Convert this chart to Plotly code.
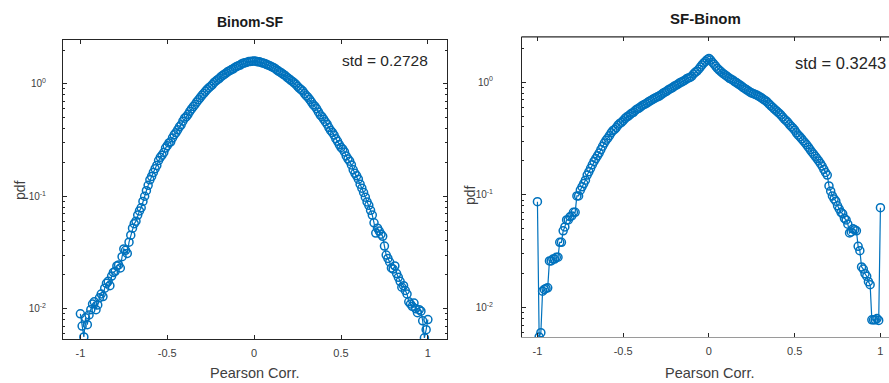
import plotly.graph_objects as go

# ---------------- data ----------------
x_bins = [
    -1.00, -0.99, -0.98, -0.97, -0.96, -0.95, -0.94, -0.93, -0.92, -0.91,
    -0.90, -0.89, -0.88, -0.87, -0.86, -0.85, -0.84, -0.83, -0.82, -0.81,
    -0.80, -0.79, -0.78, -0.77, -0.76, -0.75, -0.74, -0.73, -0.72, -0.71,
    -0.70, -0.69, -0.68, -0.67, -0.66, -0.65, -0.64, -0.63, -0.62, -0.61,
    -0.60, -0.59, -0.58, -0.57, -0.56, -0.55, -0.54, -0.53, -0.52, -0.51,
    -0.50, -0.49, -0.48, -0.47, -0.46, -0.45, -0.44, -0.43, -0.42, -0.41,
    -0.40, -0.39, -0.38, -0.37, -0.36, -0.35, -0.34, -0.33, -0.32, -0.31,
    -0.30, -0.29, -0.28, -0.27, -0.26, -0.25, -0.24, -0.23, -0.22, -0.21,
    -0.20, -0.19, -0.18, -0.17, -0.16, -0.15, -0.14, -0.13, -0.12, -0.11,
    -0.10, -0.09, -0.08, -0.07, -0.06, -0.05, -0.04, -0.03, -0.02, -0.01,
    0.00, 0.01, 0.02, 0.03, 0.04, 0.05, 0.06, 0.07, 0.08, 0.09,
    0.10, 0.11, 0.12, 0.13, 0.14, 0.15, 0.16, 0.17, 0.18, 0.19,
    0.20, 0.21, 0.22, 0.23, 0.24, 0.25, 0.26, 0.27, 0.28, 0.29,
    0.30, 0.31, 0.32, 0.33, 0.34, 0.35, 0.36, 0.37, 0.38, 0.39,
    0.40, 0.41, 0.42, 0.43, 0.44, 0.45, 0.46, 0.47, 0.48, 0.49,
    0.50, 0.51, 0.52, 0.53, 0.54, 0.55, 0.56, 0.57, 0.58, 0.59,
    0.60, 0.61, 0.62, 0.63, 0.64, 0.65, 0.66, 0.67, 0.68, 0.69,
    0.70, 0.71, 0.72, 0.73, 0.74, 0.75, 0.76, 0.77, 0.78, 0.79,
    0.80, 0.81, 0.82, 0.83, 0.84, 0.85, 0.86, 0.87, 0.88, 0.89,
    0.90, 0.91, 0.92, 0.93, 0.94, 0.95, 0.96, 0.97, 0.98, 0.99,
    1.00,
]

pdf_binom_sf = [
    0.0090, 0.0070, 0.0056, 0.0083, 0.0072, 0.0088, 0.0098, 0.0110, 0.0115, 0.0098,
    0.0108, 0.0125, 0.0135, 0.0128, 0.0152, 0.0168, 0.0175, 0.0160, 0.0195, 0.0210,
    0.0215, 0.0240, 0.0245, 0.0230, 0.029, 0.034, 0.033, 0.031, 0.039, 0.045,
    0.052, 0.057, 0.060, 0.068, 0.074, 0.079, 0.090, 0.100, 0.112, 0.125,
    0.140, 0.150, 0.163, 0.176, 0.188, 0.208, 0.222, 0.232, 0.245, 0.268,
    0.282, 0.298, 0.305, 0.330, 0.352, 0.368, 0.390, 0.415, 0.432, 0.465,
    0.495, 0.510, 0.535, 0.570, 0.598, 0.628, 0.655, 0.690, 0.722, 0.755,
    0.790, 0.822, 0.858, 0.892, 0.925, 0.952, 0.985, 1.03, 1.06, 1.09,
    1.12, 1.16, 1.19, 1.22, 1.25, 1.29, 1.31, 1.34, 1.36, 1.40,
    1.43, 1.45, 1.47, 1.51, 1.53, 1.54, 1.56, 1.58, 1.58, 1.59,
    1.60, 1.59, 1.57, 1.57, 1.55, 1.53, 1.52, 1.49, 1.47, 1.45,
    1.42, 1.40, 1.37, 1.33, 1.30, 1.27, 1.24, 1.21, 1.18, 1.14,
    1.11, 1.08, 1.05, 1.02, 0.99, 0.950, 0.915, 0.890, 0.862, 0.820,
    0.785, 0.758, 0.725, 0.688, 0.652, 0.630, 0.600, 0.562, 0.530, 0.510,
    0.485, 0.460, 0.438, 0.408, 0.385, 0.370, 0.350, 0.325, 0.308, 0.288,
    0.272, 0.262, 0.248, 0.228, 0.215, 0.205, 0.190, 0.172, 0.160, 0.152,
    0.142, 0.128, 0.118, 0.108, 0.098, 0.089, 0.083, 0.075, 0.068, 0.058,
    0.047, 0.052, 0.049, 0.046, 0.044, 0.036, 0.030, 0.028, 0.026, 0.023,
    0.0225, 0.0240, 0.0205, 0.0190, 0.0175, 0.0155, 0.0160, 0.0145, 0.0135, 0.0115,
    0.0110, 0.0105, 0.0112, 0.0100, 0.0092, 0.0098, 0.0095, 0.0078, 0.0055, 0.0065,
    0.0080,
]

pdf_sf_binom = [
    0.087, 0.0055, 0.0060, 0.0140, 0.0145, 0.0148, 0.0150, 0.026, 0.026, 0.027,
    0.027, 0.028, 0.028, 0.038, 0.038, 0.048, 0.052, 0.060, 0.060, 0.064,
    0.065, 0.070, 0.070, 0.098, 0.098, 0.110, 0.118, 0.126, 0.135, 0.150,
    0.160, 0.172, 0.185, 0.198, 0.210, 0.222, 0.235, 0.252, 0.270, 0.288,
    0.305, 0.318, 0.335, 0.355, 0.372, 0.380, 0.395, 0.415, 0.430, 0.440,
    0.455, 0.475, 0.490, 0.500, 0.515, 0.530, 0.540, 0.560, 0.575, 0.585,
    0.600, 0.618, 0.630, 0.640, 0.655, 0.672, 0.685, 0.700, 0.715, 0.728,
    0.740, 0.752, 0.770, 0.792, 0.810, 0.825, 0.845, 0.865, 0.880, 0.900,
    0.925, 0.940, 0.960, 0.985, 1.00, 1.02, 1.04, 1.07, 1.09, 1.10,
    1.13, 1.18, 1.22, 1.25, 1.30, 1.36, 1.42, 1.48, 1.53, 1.58,
    1.62, 1.57, 1.50, 1.44, 1.38, 1.32, 1.28, 1.24, 1.20, 1.17,
    1.14, 1.11, 1.08, 1.06, 1.04, 1.01, 0.99, 0.965, 0.945, 0.920,
    0.895, 0.875, 0.855, 0.835, 0.815, 0.800, 0.790, 0.778, 0.765, 0.750,
    0.735, 0.718, 0.700, 0.685, 0.665, 0.640, 0.620, 0.600, 0.580, 0.562,
    0.545, 0.528, 0.510, 0.490, 0.470, 0.455, 0.440, 0.420, 0.405, 0.390,
    0.375, 0.355, 0.340, 0.328, 0.315, 0.302, 0.290, 0.278, 0.265, 0.252,
    0.240, 0.230, 0.220, 0.210, 0.200, 0.190, 0.180, 0.168, 0.158, 0.150,
    0.120, 0.108, 0.098, 0.092, 0.088, 0.080, 0.075, 0.070, 0.068, 0.062,
    0.060, 0.055, 0.046, 0.047, 0.050, 0.049, 0.048, 0.035, 0.032, 0.023,
    0.022, 0.020, 0.019, 0.017, 0.016, 0.0078, 0.0078, 0.0078, 0.0080, 0.0077,
    0.077,
]

assert len(x_bins) == len(pdf_binom_sf) == len(pdf_sf_binom) == 201

panel_titles = ["Binom-SF", "SF-Binom"]
std_labels = ["std = 0.2728", "std = 0.3243"]
x_label = "Pearson Corr."
y_label = "pdf"
x_tick_vals = [-1, -0.5, 0, 0.5, 1]
x_tick_text = ["-1", "-0.5", "0", "0.5", "1"]
y_tick_vals = [0.01, 0.1, 1]
y_tick_text = ["10<sup>-2</sup>", "10<sup>-1</sup>", "10<sup>0</sup>"]
y_minor_vals = [0.006, 0.007, 0.008, 0.009,
                0.02, 0.03, 0.04, 0.05, 0.06, 0.07, 0.08, 0.09,
                0.2, 0.3, 0.4, 0.5, 0.6, 0.7, 0.8, 0.9, 2]

# ---------------- style ----------------
W, H = 889, 383
BLUE = "#0072BD"
AX = "#262626"
FONT = "Liberation Sans, Arial, sans-serif"

fig = go.Figure()

marker = dict(symbol="circle-open", size=8, color=BLUE, line=dict(width=1.5, color=BLUE))
fig.add_trace(go.Scatter(x=x_bins, y=pdf_binom_sf, mode="lines+markers",
                         line=dict(color=BLUE, width=1.2), marker=marker,
                         xaxis="x", yaxis="y", showlegend=False))
fig.add_trace(go.Scatter(x=x_bins, y=pdf_sf_binom, mode="lines+markers",
                         line=dict(color=BLUE, width=1.2), marker=marker,
                         xaxis="x2", yaxis="y2", showlegend=False))

def xax(domain, rng, anchor, linecolor):
    return dict(domain=domain, range=rng, anchor=anchor, showgrid=False, zeroline=False,
                showline=True, linecolor=linecolor, linewidth=1, mirror="ticks",
                ticks="inside", ticklen=4, tickcolor=AX, ticklabelstandoff=4,
                tickvals=x_tick_vals, ticktext=x_tick_text,
                tickfont=dict(family=FONT, size=11, color="#404040"))

def yax(domain, rng, anchor, mirror, standoff):
    return dict(domain=domain, range=rng, anchor=anchor, type="log", showgrid=False,
                zeroline=False, showline=True, linecolor=AX, linewidth=1, mirror=mirror,
                ticks="inside", ticklen=4, tickcolor=AX, ticklabelstandoff=standoff,
                tickvals=y_tick_vals, ticktext=y_tick_text,
                minor=dict(ticks="inside", ticklen=2, tickcolor=AX, tickvals=y_minor_vals),
                tickfont=dict(family=FONT, size=10, color="#404040"))

fig.update_layout(
    width=W, height=H,
    margin=dict(l=0, r=0, t=0, b=0),
    paper_bgcolor="white", plot_bgcolor="white",
    xaxis=xax([63 / W, 447 / W], [-1.1, 1.11], "y", AX),
    yaxis=yax([1 - 339 / H, 1 - 40 / H], [-2.27, 0.39], "x", "ticks", 14),
    xaxis2=xax([522 / W, 1.0], [-1.09, 1.05], "y2", "#9a9a9a"),
    yaxis2=yax([1 - 337 / H, 1 - 37 / H], [-2.26, 0.40], "x2", False, 26),
)

# dark top border on right panel
fig.add_shape(type="line", xref="x2 domain", yref="y2 domain", x0=0, x1=1, y0=1, y1=1,
              line=dict(color=AX, width=1), layer="above")

def txt(text, xc, yc, size, color, xanchor="center", angle=0):
    return dict(text=text, x=xc / W, y=1 - yc / H, xref="paper", yref="paper",
                xanchor=xanchor, yanchor="middle", showarrow=False, textangle=angle,
                font=dict(family=FONT, size=size, color=color))

ann = [
    txt("<b>" + panel_titles[0] + "</b>", 250, 22, 14, "#1a1a1a"),
    txt("<b>" + panel_titles[1] + "</b>", 705, 18, 15, "#1a1a1a"),
    txt(std_labels[0], 430, 60, 15.5, "#262626", xanchor="right"),
    txt(std_labels[1], 888, 63, 16.5, "#262626", xanchor="right"),
    txt(x_label, 254, 373, 14.5, "#404040"),
    txt(x_label, 709, 373, 14.5, "#404040"),
    txt(y_label, 20, 190, 14, "#404040", angle=-90),
    txt(y_label, 470, 195, 14, "#404040", angle=-90),
]
fig.update_layout(annotations=ann)

fig.write_html(
    "out.html",
    config={"displayModeBar": False},
    post_script="document.body.style.margin='0';document.documentElement.style.overflow='hidden';",
)
